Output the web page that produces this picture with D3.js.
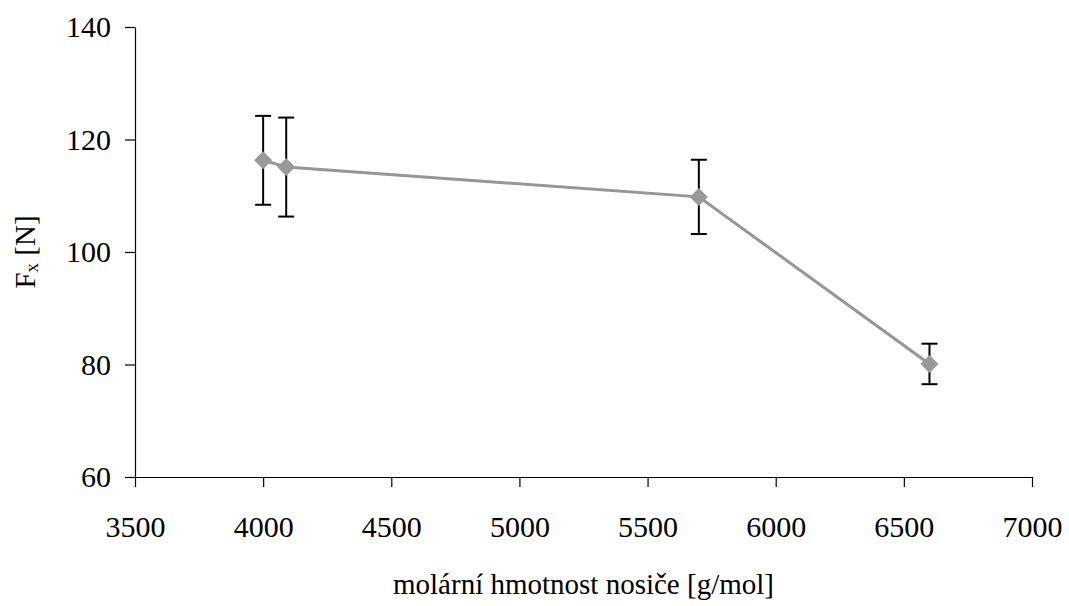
<!DOCTYPE html>
<html>
<head>
<meta charset="utf-8">
<script src="https://cdn.jsdelivr.net/npm/d3@7"></script>
<style>
  html, body { margin: 0; padding: 0; background: #fff; }
  svg { display: block; }
  svg text { font-family: "Liberation Serif", "Times New Roman", "DejaVu Serif", serif; fill: #000; }
</style>
</head>
<body>
<svg id="chart" width="1069" height="606"></svg>
<script>
// Molar mass of carrier [g/mol]
const molarMass = [4000, 4090, 5700, 6600];
// Force Fx [N]
const force = [116.3, 115.1, 109.8, 80.1];
// Error (±) for each point [N]
const errors = [7.9, 8.8, 6.6, 3.6];

const xTicks = [3500, 4000, 4500, 5000, 5500, 6000, 6500, 7000];
const yTicks = [60, 80, 100, 120, 140];

const svg = d3.select("#chart");
const plotLeft = 135, plotRight = 1032, plotTop = 27, plotBottom = 477;

const x = d3.scaleLinear().domain([3500, 7000]).range([plotLeft, plotRight]);
const y = d3.scaleLinear().domain([60, 140]).range([plotBottom, plotTop]);

// Axes: plain integer labels, ticks pointing outward
const xAxis = d3.axisBottom(x).tickValues(xTicks).tickFormat(d3.format("d"))
  .tickSize(10).tickSizeOuter(0).tickPadding(29);
const yAxis = d3.axisLeft(y).tickValues(yTicks).tickFormat(d3.format("d"))
  .tickSize(10).tickSizeOuter(0).tickPadding(14);

const gx = svg.append("g").attr("transform", `translate(0,${plotBottom})`).call(xAxis);
const gy = svg.append("g").attr("transform", `translate(${plotLeft},0)`).call(yAxis);

[gx, gy].forEach(g => {
  g.attr("font-family", null).attr("font-size", 30);
  g.selectAll("path.domain").attr("stroke", "#000").attr("stroke-width", 1.2);
  g.selectAll(".tick line").attr("stroke", "#000").attr("stroke-width", 1.2);
  g.selectAll(".tick text").attr("fill", "#000");
});

const data = molarMass.map((m, i) => ({ m, f: force[i], e: errors[i] }));

// Connecting line
svg.append("path")
  .datum(data)
  .attr("fill", "none")
  .attr("stroke", "#969696")
  .attr("stroke-width", 3)
  .attr("d", d3.line().x(d => x(d.m)).y(d => y(d.f)));

// Error bars
const eb = svg.append("g").attr("stroke", "#000").attr("stroke-width", 2);
data.forEach(d => {
  const cx = x(d.m);
  eb.append("line").attr("x1", cx).attr("x2", cx).attr("y1", y(d.f + d.e)).attr("y2", y(d.f - d.e));
  eb.append("line").attr("x1", cx - 8).attr("x2", cx + 8).attr("y1", y(d.f + d.e)).attr("y2", y(d.f + d.e));
  eb.append("line").attr("x1", cx - 8).attr("x2", cx + 8).attr("y1", y(d.f - d.e)).attr("y2", y(d.f - d.e));
});

// Diamond markers
svg.append("g").selectAll("path")
  .data(data)
  .join("path")
  .attr("d", "M0,-9L9,0L0,9L-9,0Z")
  .attr("fill", "#999999")
  .attr("transform", d => `translate(${x(d.m)},${y(d.f)})`);

// Axis titles
svg.append("text")
  .attr("x", (plotLeft + plotRight) / 2)
  .attr("y", 594)
  .attr("text-anchor", "middle")
  .attr("font-size", 29)
  .text("molární hmotnost nosiče [g/mol]");

const yt = svg.append("text")
  .attr("transform", `translate(35,${(plotTop + plotBottom) / 2}) rotate(-90)`)
  .attr("text-anchor", "middle")
  .attr("font-size", 29);
yt.append("tspan").text("F");
yt.append("tspan").attr("font-size", 19).attr("dy", 3).text("x");
yt.append("tspan").attr("dy", -3).text(" [N]");
</script>
</body>
</html>
